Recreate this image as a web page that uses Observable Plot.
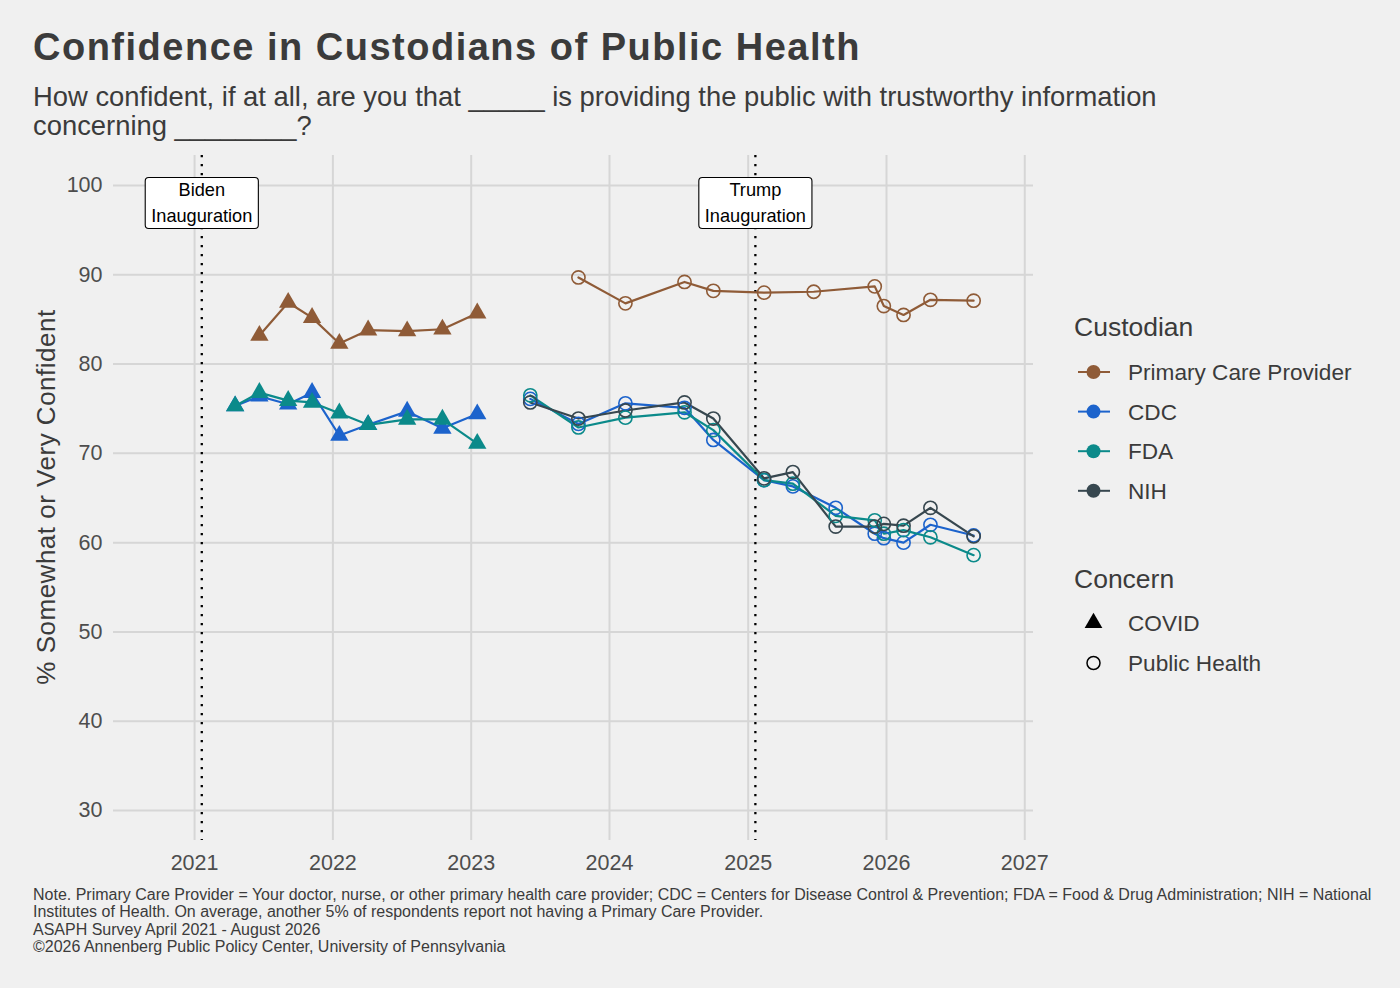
<!DOCTYPE html>
<html>
<head>
<meta charset="utf-8">
<script src="https://cdn.jsdelivr.net/npm/d3@7"></script>
<script src="https://cdn.jsdelivr.net/npm/@observablehq/plot@0.6"></script>
<style>
  html, body { margin: 0; padding: 0; background: #f0f0f0; }
  body { width: 1400px; height: 988px; position: relative; overflow: hidden;
         font-family: "Liberation Sans", Arial, Helvetica, sans-serif; color: #3b3b3b; }
  #title { position: absolute; left: 33px; top: 28px; font-size: 38px; line-height: 38px;
           font-weight: bold; letter-spacing: 1.5px; white-space: nowrap; }
  #subtitle { position: absolute; left: 33px; top: 81.5px; font-size: 27.4px; line-height: 29.5px;
              white-space: nowrap; }
  #chart { position: absolute; left: 0; top: 150px; }
  #legend { position: absolute; left: 1050px; top: 280px; }
  #caption { position: absolute; left: 33px; top: 885.5px; font-size: 16px; line-height: 17.5px;
             white-space: nowrap; color: #3b3b3b; }
</style>
</head>
<body>
<div id="title">Confidence in Custodians of Public Health</div>
<div id="subtitle">How confident, if at all, are you that _____ is providing the public with trustworthy information<br>concerning ________?</div>
<div id="chart"></div>
<div id="legend"></div>
<div id="caption">Note. Primary Care Provider = Your doctor, nurse, or other primary health care provider; CDC = Centers for Disease Control &amp; Prevention; FDA = Food &amp; Drug Administration; NIH = National<br>Institutes of Health. On average, another 5% of respondents report not having a Primary Care Provider.<br>ASAPH Survey April 2021 - August 2026<br>©2026 Annenberg Public Policy Center, University of Pennsylvania</div>
<script>
// ---------------- data ----------------
const custodians = ["Primary Care Provider", "CDC", "FDA", "NIH"];
const custodianColors = ["#8f5b37", "#1c63cc", "#0b8a8a", "#37474f"];
const concerns = ["COVID", "Public Health"];

// COVID waves
const covidDates = ["2021-04-18", "2021-06-21", "2021-09-05", "2021-11-07", "2022-01-18",
                    "2022-04-04", "2022-07-16", "2022-10-17", "2023-01-17"];
const covidPCP = [null, 83.2, 86.9, 85.2, 82.3, 83.8, 83.7, 83.9, 85.7];
const covidCDC = [75.3, 76.4, 75.5, 76.8, 72.0, 73.2, 74.7, 72.8, 74.4];
const covidFDA = [75.3, 76.8, 75.9, 75.7, 74.5, 73.2, 73.8, 73.8, 71.1];
const covidNIH = [null, null, null, null, null, null, null, null, null];

// Public health waves
const phDates = ["2023-06-06", "2023-10-11", "2024-02-12", "2024-07-17", "2024-10-01",
                 "2025-02-12", "2025-04-29", "2025-06-23", "2025-08-20", "2025-12-01",
                 "2025-12-25", "2026-02-15", "2026-04-27", "2026-08-19"];
const phPCP = [null, 89.7, 86.8, 89.2, 88.2, 88.0, null, 88.1, null, 88.7, 86.5, 85.5, 87.2, 87.1];
const phCDC = [76.1, 73.3, 75.6, 75.1, 71.5, 67.0, 66.3, null, 63.9, 61.0, 60.5, 60.0, 62.0, 60.8];
const phFDA = [76.5, 72.9, 74.0, 74.6, 72.6, 67.0, 66.6, null, 63.0, 62.5, 61.0, 61.4, 60.6, 58.6];
const phNIH = [75.7, 73.9, 74.8, 75.7, 73.9, 67.2, 67.9, null, 61.8, 61.8, 62.1, 61.9, 63.9, 60.7];

// events
const eventDates = ["2021-01-20", "2025-01-20"];
const eventLabels = ["Biden\nInauguration", "Trump\nInauguration"];
const eventLabelY = 98.3;

// ticks
const yTicks = [30, 40, 50, 60, 70, 80, 90, 100];
const xTickYears = [2021, 2022, 2023, 2024, 2025, 2026, 2027];
const xDomain = ["2020-06-01", "2027-01-24"];
const yDomain = [26.64, 103.36];

// ---------------- tidy rows ----------------
function build(dates, seriesList, concern) {
  const out = [];
  seriesList.forEach((vals, k) => {
    vals.forEach((v, i) => {
      if (v != null) out.push({date: new Date(dates[i]), value: v, custodian: custodians[k],
                               concern, key: custodians[k] + "|" + concern});
    });
  });
  return out;
}
const covidRows = build(covidDates, [covidPCP, covidCDC, covidFDA, covidNIH], "COVID");
const phRows = build(phDates, [phPCP, phCDC, phFDA, phNIH], "Public Health");
const allRows = covidRows.concat(phRows);
const events = eventDates.map((d, i) => ({date: new Date(d), label: eventLabels[i], y: eventLabelY}));
const xTicks = xTickYears.map(y => new Date(Date.UTC(y, 0, 1)));

const FONT = "Liberation Sans, Arial, Helvetica, sans-serif";
const GRID = "#d6d6d6";

const plot = Plot.plot({
  width: 1050,
  height: 730,
  marginTop: 5,
  marginBottom: 40,
  marginLeft: 113,
  marginRight: 17,
  style: {background: "transparent", fontFamily: FONT, overflow: "visible"},
  x: {type: "utc", domain: xDomain.map(d => new Date(d))},
  y: {domain: yDomain},
  color: {domain: custodians, range: custodianColors},
  marks: [
    Plot.gridY(yTicks, {stroke: GRID, strokeWidth: 2, strokeOpacity: 1}),
    Plot.gridX(xTicks, {stroke: GRID, strokeWidth: 2, strokeOpacity: 1}),
    Plot.axisY(yTicks, {tickSize: 0, tickPadding: 11, fontSize: 21.5, fill: "#4d4d4d", label: null}),
    Plot.axisX(xTicks, {tickSize: 0, tickPadding: 14, fontSize: 21.5, fill: "#4d4d4d", label: null,
                        tickFormat: d => String(d.getUTCFullYear())}),
    Plot.ruleX(events, {x: "date", stroke: "black", strokeWidth: 2.3, strokeDasharray: "2.3,6.7"}),
    Plot.line(allRows, {x: "date", y: "value", z: "key", stroke: "custodian", strokeWidth: 2.2}),
    Plot.dot(covidRows, {x: "date", y: "value", symbol: "triangle", fill: "custodian", r: 6.8}),
    Plot.dot(phRows, {x: "date", y: "value", stroke: "custodian", fill: "none", r: 6.6, strokeWidth: 1.6}),
    Plot.text(events, {x: "date", y: "y", text: "label", fontSize: 18.2, lineHeight: 1.44, fill: "black"})
  ]
});

document.getElementById("chart").append(plot);

// label boxes behind the event text
plot.querySelectorAll('g[aria-label="text"] text').forEach(t => {
  const b = t.getBBox();
  const w = b.width + 12, h = 51;
  const rect = document.createElementNS("http://www.w3.org/2000/svg", "rect");
  rect.setAttribute("x", b.x + b.width / 2 - w / 2);
  rect.setAttribute("y", b.y + b.height / 2 - h / 2);
  rect.setAttribute("width", w);
  rect.setAttribute("height", h);
  rect.setAttribute("rx", 3.5);
  rect.setAttribute("fill", "white");
  rect.setAttribute("stroke", "black");
  rect.setAttribute("stroke-width", 1.1);
  if (t.getAttribute("transform")) rect.setAttribute("transform", t.getAttribute("transform"));
  t.parentNode.insertBefore(rect, t);
});

// y-axis title
d3.select(plot).append("text")
  .attr("transform", "translate(55,347) rotate(-90)")
  .attr("text-anchor", "middle")
  .attr("font-family", FONT)
  .attr("font-size", 26)
  .attr("letter-spacing", 0.5)
  .attr("fill", "#3b3b3b")
  .text("% Somewhat or Very Confident");

// ---------------- legend ----------------
const lg = d3.select("#legend").append("svg")
  .attr("width", 350).attr("height", 420)
  .style("font-family", FONT);

lg.append("text").attr("x", 24).attr("y", 56).attr("font-size", 26.5).attr("fill", "#3b3b3b").text("Custodian");
custodians.forEach((c, i) => {
  const cy = 92 + i * 39.6;
  lg.append("line").attr("x1", 28).attr("x2", 60).attr("y1", cy).attr("y2", cy)
    .attr("stroke", custodianColors[i]).attr("stroke-width", 2);
  lg.append("circle").attr("cx", 43.5).attr("cy", cy).attr("r", 7).attr("fill", custodianColors[i]);
  lg.append("text").attr("x", 78).attr("y", cy + 8).attr("font-size", 22.6).attr("fill", "#3b3b3b").text(c);
});

lg.append("text").attr("x", 24).attr("y", 308).attr("font-size", 26.5).attr("fill", "#3b3b3b").text("Concern");
concerns.forEach((c, i) => {
  const cy = 343 + i * 40;
  if (i === 0) {
    lg.append("path").attr("transform", `translate(43.5,${cy})`)
      .attr("d", d3.symbol(d3.symbolTriangle, 136)()).attr("fill", "black");
  } else {
    lg.append("circle").attr("cx", 43.5).attr("cy", cy).attr("r", 6.5)
      .attr("fill", "none").attr("stroke", "black").attr("stroke-width", 1.5);
  }
  lg.append("text").attr("x", 78).attr("y", cy + 8).attr("font-size", 22.6).attr("fill", "#3b3b3b").text(c);
});
</script>
</body>
</html>
